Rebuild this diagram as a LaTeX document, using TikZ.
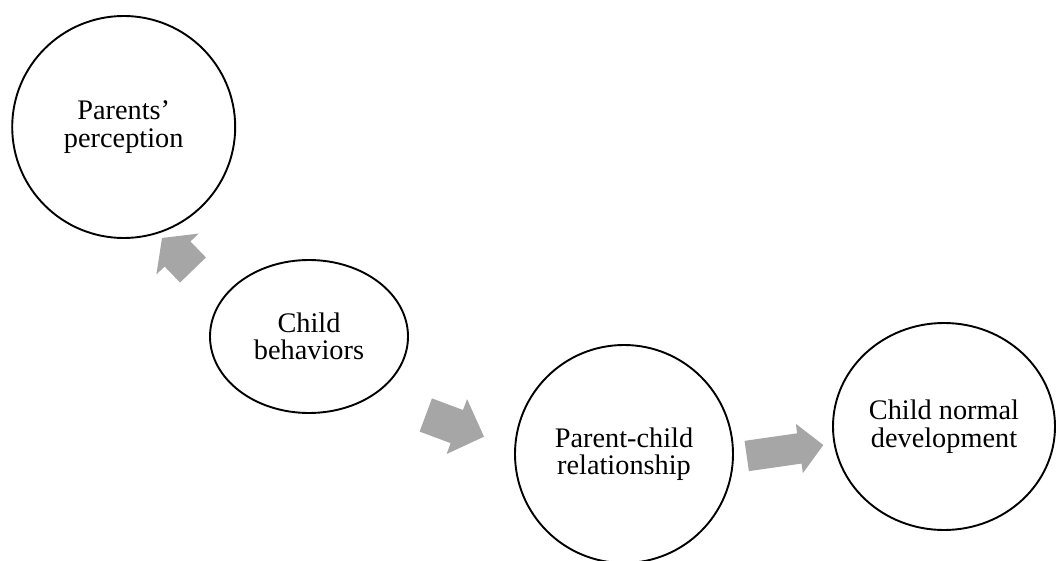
\documentclass[tikz,border=0pt]{standalone}
\usepackage{fontspec}
\setmainfont{Liberation Serif}
\usetikzlibrary{calc,
	positioning,
	shapes}
\definecolor{arrgray}{RGB}{166,166,167}
\tikzstyle{bub}=[draw, ellipse, line width=1.9pt, inner sep=0, align=center,
		font=\fontsize{28.3pt}{27.5pt}\selectfont]
\tikzstyle{blk}=[fill=arrgray, draw=none]
% #1 tail, #2 tip, #3 half shaft, #4 half head, #5 head length
\newcommand{\blkarrow}[5]{
	\coordinate (#1b) at ($(#2)!#5!(#1)$);
	\path[blk] ($(#1)!#3!90:(#2)$) -- ($(#1b)!#3!90:(#2)$) -- ($(#1b)!#4!90:(#2)$) -- (#2)
		-- ($(#1b)!#4!-90:(#2)$) -- ($(#1b)!#3!-90:(#2)$) -- ($(#1)!#3!-90:(#2)$) -- cycle;
}

\begin{document}
\begin{tikzpicture}[x=1pt, y=-1pt]
                \useasboundingbox (0,0) rectangle (1056,561);
                \node[bub, minimum width=223pt, minimum height=222pt] (perc) at (123.7,127) {Parents’\\perception};
                \node[bub, minimum width=198pt, minimum height=153pt] (behav) at (309,336.5) {Child\\behaviors};
                \node[bub, minimum width=218pt, minimum height=218pt] (rel) at (624,454) {Parent-child\\relationship};
                \node[bub, minimum width=222pt, minimum height=207pt] (dev) at (944,426.5) {Child normal\\development};
                \coordinate (a1t) at (193,270);
                \coordinate (a1h) at (162,238);
                \coordinate (a2t) at (425.8,415);
                \coordinate (a2h) at (484,436.7);
                \coordinate (a3t) at (746.7,456);
                \coordinate (a3h) at (823.3,445);
                \blkarrow{a1t}{a1h}{18pt}{29.4pt}{22.3pt}
                \blkarrow{a2t}{a2h}{17.7pt}{29.3pt}{29pt}
                \blkarrow{a3t}{a3h}{15.3pt}{24.9pt}{24.2pt}
\end{tikzpicture}
\end{document}
